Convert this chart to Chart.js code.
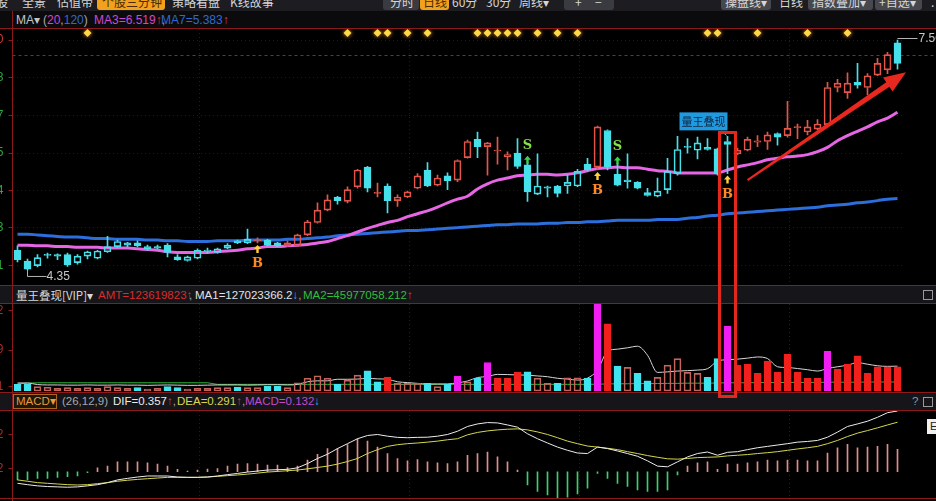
<!DOCTYPE html>
<html>
<head>
<meta charset="utf-8">
<title>K线 量王叠现</title>
<script src="https://cdn.jsdelivr.net/npm/chart.js@4.4.1/dist/chart.umd.min.js"></script>
<style>
html,body{margin:0;padding:0;background:#000;overflow:hidden;}
#wrap{position:relative;width:936px;height:501px;overflow:hidden;background:#000;font-family:"Liberation Sans",Arial,"Noto Sans CJK SC",sans-serif;font-size:12px;}
.a{position:absolute;white-space:nowrap;}
canvas{position:absolute;left:0;}
.tb{position:absolute;top:-4px;line-height:12px;font-size:12px;color:#d6d6d6;font-family:"Noto Sans CJK SC",sans-serif;white-space:nowrap;}
.btn{position:absolute;top:-4px;height:14px;border-radius:3px;background:#3a3a41;}
.hl{position:absolute;left:0;width:936px;height:1px;background:#8c1a1a;z-index:5;}
.row{line-height:16px;height:16px;font-size:11.5px;}
.cjk{font-family:"Noto Sans CJK SC",sans-serif;}
</style>
</head>
<body>
<div id="wrap">
  <!-- toolbar (cut off at top) -->
  <div class="a" style="left:0;top:0;width:936px;height:11px;background:#1c1c21;overflow:hidden;">
    <span class="tb" style="left:-4px">股</span>
    <span class="tb" style="left:22px">全景</span>
    <span class="tb" style="left:57px">估值带</span>
    <div class="btn" style="left:97px;width:68px;background:#f2a11f"></div>
    <span class="tb" style="left:102px;color:#4a2a00">个股三分钟</span>
    <span class="tb" style="left:172px">策略看盘</span>
    <span class="tb" style="left:230px">K线故事</span>
    <div class="btn" style="left:383px;width:36px"></div>
    <span class="tb" style="left:390px">分时</span>
    <div class="btn" style="left:420px;width:29px;background:#f2a11f"></div>
    <span class="tb" style="left:423px;color:#4a2a00">日线</span>
    <span class="tb" style="left:452px">60分</span>
    <span class="tb" style="left:486px">30分</span>
    <span class="tb" style="left:519px">周线▾</span>
    <div class="btn" style="left:564px;width:50px"></div>
    <span class="tb" style="left:575px">+</span>
    <span class="tb" style="left:595px">−</span>
    <div class="btn" style="left:721px;width:50px;background:#47474e"></div>
    <span class="tb" style="left:725px">操盘线▾</span>
    <span class="tb" style="left:779px">日线</span>
    <div class="btn" style="left:808px;width:65px;background:#47474e"></div>
    <span class="tb" style="left:812px">指数叠加▾</span>
    <div class="btn" style="left:875px;width:47px;background:#47474e"></div>
    <span class="tb" style="left:879px">+自选▾</span>
    <span class="tb" style="left:931px">.</span>
  </div>

  <!-- MA legend row -->
  <div class="a" style="left:0;top:11px;width:936px;height:17px;background:#0b0b0e"></div>
  <span class="a row" style="left:16px;top:12px;color:#c4c4c4;font-size:12px">MA▾</span>
  <span class="a row" style="left:43px;top:12px;color:#a8a8a8;font-size:12px">(<span style="color:#cf48cf">20</span>,<span style="color:#2f6ad0">120</span>)</span>
  <span class="a row" style="left:94px;top:12px;color:#cf48cf;font-size:12px">MA3=6.519<span style="color:#e03a3a">↑</span><span style="color:#a8a8a8">,</span></span>
  <span class="a row" style="left:161px;top:12px;color:#2f6ad0;font-size:12px">MA7=5.383<span style="color:#e03a3a">↑</span></span>

  <!-- volume header row -->
  <div class="a" style="left:0;top:286px;width:936px;height:17px;background:#15151a"></div>
  <span class="a row cjk" style="left:16px;top:287px;color:#d8d8d8;font-size:11.5px">量王叠现[VIP]▾</span>
  <span class="a row" style="left:98px;top:287px;color:#d82c2c">AMT=123619823↑</span>
  <span class="a row" style="left:189px;top:287px;color:#a8a8a8">,</span>
  <span class="a row" style="left:195px;top:287px;color:#e4e4e4">MA1=127023366.2<span style="color:#2ab8e0">↓</span><span style="color:#a8a8a8">,</span></span>
  <span class="a row" style="left:303px;top:287px;color:#2fbf3a">MA2=45977058.212<span style="color:#e03a3a">↑</span></span>
  <div class="a" style="left:923px;top:290px;width:8px;height:8px;border:1px solid #9a9a9a"></div>

  <!-- MACD header row -->
  <div class="a" style="left:0;top:393px;width:936px;height:17px;background:#15151a"></div>
  <div class="a" style="left:13px;top:394px;width:42px;height:13px;border:1px solid #a8661e;background:#1f160c"></div>
  <span class="a row" style="left:16px;top:393px;color:#e89a3c">MACD▾</span>
  <span class="a row" style="left:62px;top:393px;color:#a8a8a8">(26,12,9)</span>
  <span class="a row" style="left:113px;top:393px;color:#ececec">DIF=0.357<span style="color:#e03a3a">↑</span><span style="color:#a8a8a8">,</span></span>
  <span class="a row" style="left:177px;top:393px;color:#d8d84e">DEA=0.291<span style="color:#e03a3a">↑</span><span style="color:#a8a8a8">,</span></span>
  <span class="a row" style="left:245px;top:393px;color:#c448d0">MACD=0.132<span style="color:#2ab8e0">↓</span></span>
  <span class="a row" style="left:912px;top:393px;color:#9a9a9a">?</span>
  <div class="a" style="left:923px;top:397px;width:8px;height:8px;border:1px solid #9a9a9a"></div>

  <canvas id="cPrice" width="936" height="256" style="top:29px;width:936px;height:256px"></canvas>
  <canvas id="cVol" width="936" height="88" style="top:304px;width:936px;height:88px"></canvas>
  <canvas id="cMacd" width="936" height="90" style="top:411px;width:936px;height:90px"></canvas>

  <div class="a" style="left:927px;top:419px;width:12px;height:15px;background:#f0f0f0;color:#222;font-size:11px;line-height:15px;z-index:6">&nbsp;E</div>

  <!-- panel frame lines -->
  <div class="hl" style="top:28px"></div>
  <div class="hl" style="top:285px"></div>
  <div class="hl" style="top:303px"></div>
  <div class="hl" style="top:392px"></div>
  <div class="hl" style="top:410px"></div>
  <div class="hl" style="top:498px"></div>
  <div class="a" style="left:12px;top:11px;width:1px;height:490px;background:#8c1a1a;z-index:5"></div>

  <div id="kingBox" class="a" style="box-sizing:border-box;border:3px solid #e2281c;z-index:8"></div>
</div>

<script>
// ---------------- data ----------------
const days = [1,2,3,4,5,6,7,8,9,10,11,12,13,14,15,16,17,18,19,20,21,22,23,24,25,26,27,28,29,30,
  31,32,33,34,35,36,37,38,39,40,41,42,43,44,45,46,47,48,49,50,51,52,53,54,55,56,57,58,59,60,
  61,62,63,64,65,66,67,68,69,70,71,72,73,74,75,76,77,78,79,80,81,82,83,84,85,86,87,88,89];

const opens = [4.62,4.47,4.41,4.55,4.56,4.56,4.45,4.54,4.51,4.60,
  4.67,4.72,4.72,4.67,4.67,4.69,4.53,4.48,4.51,4.61,
  4.59,4.65,4.75,4.72,4.75,4.76,4.72,4.68,4.68,4.83,
  5.00,5.17,5.35,5.29,5.49,5.76,5.40,5.50,5.30,5.35,
  5.47,5.72,5.51,5.64,5.58,5.89,6.14,6.04,5.98,5.90,
  5.95,5.79,5.39,5.49,5.50,5.50,5.50,5.80,5.76,6.26,
  5.66,5.58,5.55,5.41,5.36,5.45,5.67,6.03,5.99,6.03,
  6.01,6.11,5.94,5.99,6.10,6.11,6.22,6.19,6.30,6.24,
  6.28,6.34,6.85,6.78,6.92,6.85,7.02,7.09,7.46];

const closes = [4.49,4.36,4.52,4.56,4.54,4.42,4.54,4.60,4.61,4.67,
  4.74,4.69,4.68,4.64,4.65,4.59,4.49,4.53,4.62,4.62,
  4.64,4.69,4.72,4.77,4.76,4.69,4.68,4.72,4.83,5.01,
  5.17,5.31,5.30,5.45,5.72,5.47,5.41,5.30,5.35,5.42,
  5.64,5.50,5.61,5.57,5.85,6.11,6.04,6.09,5.99,5.93,
  5.77,5.42,5.50,5.47,5.40,5.55,5.70,5.72,6.31,5.76,
  5.51,5.56,5.47,5.37,5.43,5.70,6.00,6.04,6.09,6.00,
  5.67,6.07,5.99,6.14,6.12,6.20,6.17,6.29,6.31,6.31,
  6.35,6.85,6.91,6.91,6.88,7.01,7.18,7.30,7.18];

const highs = [4.68,4.50,4.56,4.58,4.57,4.58,4.56,4.61,4.62,4.81,
  4.76,4.73,4.75,4.69,4.69,4.71,4.56,4.54,4.64,4.65,
  4.65,4.71,4.76,4.91,4.79,4.77,4.73,4.75,4.84,5.03,
  5.27,5.38,5.36,5.49,5.73,5.77,5.54,5.53,5.38,5.43,
  5.67,5.82,5.65,5.68,5.86,6.13,6.24,6.10,6.17,5.97,
  6.15,5.82,5.94,5.50,5.51,5.65,5.73,5.88,6.32,6.27,
  5.81,5.94,5.56,5.47,5.61,5.88,6.18,6.15,6.17,6.15,
  6.02,6.18,6.02,6.17,6.19,6.24,6.23,6.66,6.35,6.40,
  6.41,6.92,6.96,7.05,7.18,7.04,7.25,7.33,7.50];

const lows = [4.46,4.35,4.39,4.51,4.49,4.40,4.43,4.50,4.50,4.59,
  4.66,4.67,4.67,4.62,4.64,4.53,4.48,4.47,4.50,4.58,
  4.58,4.64,4.71,4.71,4.72,4.68,4.67,4.67,4.67,4.82,
  4.99,5.16,5.25,5.27,5.47,5.42,5.35,5.13,5.22,5.34,
  5.46,5.49,5.50,5.45,5.56,5.88,5.89,5.65,5.80,5.72,
  5.74,5.29,5.38,5.35,5.35,5.40,5.49,5.71,5.72,5.72,
  5.50,5.47,5.46,5.36,5.35,5.40,5.65,5.95,5.87,5.99,
  5.65,5.67,5.93,5.98,6.04,6.00,6.06,6.17,6.15,6.20,
  6.27,6.32,6.79,6.70,6.84,6.75,7.01,7.04,7.10];

// indicator state of each candle: 1 = strong (red), 0 = weak (cyan)
const candleTone = [0,0,0,0,0,0,0,0,0,0,
  0,0,0,0,0,0,0,0,0,0,
  0,0,0,0,1,0,0,1,1,1,
  1,1,0,1,1,0,1,0,1,1,
  1,0,1,0,1,1,0,1,1,1,
  0,0,0,0,0,0,0,0,1,0,
  0,0,0,0,0,0,0,0,0,0,
  0,0,1,1,1,1,0,1,1,1,
  1,1,1,1,0,1,1,1,0];

const ma20 = [4.69,4.69,4.68,4.68,4.67,4.67,4.66,4.66,4.66,4.65,
  4.65,4.65,4.64,4.63,4.62,4.60,4.59,4.59,4.59,4.59,
  4.60,4.61,4.62,4.64,4.65,4.67,4.67,4.68,4.69,4.70,
  4.72,4.74,4.78,4.82,4.87,4.92,4.96,5.00,5.03,5.08,
  5.12,5.16,5.21,5.27,5.32,5.36,5.46,5.53,5.58,5.61,
  5.64,5.65,5.66,5.66,5.65,5.66,5.68,5.71,5.74,5.75,
  5.76,5.75,5.75,5.73,5.71,5.70,5.68,5.68,5.68,5.68,
  5.68,5.72,5.76,5.79,5.82,5.86,5.88,5.90,5.91,5.93,
  5.97,6.03,6.12,6.19,6.25,6.31,6.38,6.43,6.51];

const ma120 = [4.84,4.84,4.83,4.82,4.81,4.80,4.80,4.79,4.78,4.78,
  4.77,4.77,4.77,4.76,4.76,4.75,4.75,4.74,4.74,4.74,
  4.75,4.75,4.75,4.76,4.76,4.76,4.76,4.77,4.77,4.78,
  4.79,4.80,4.82,4.83,4.84,4.85,4.86,4.87,4.88,4.89,
  4.89,4.90,4.91,4.92,4.93,4.94,4.95,4.96,4.97,4.97,
  4.98,4.98,4.98,4.99,4.99,5.00,5.00,5.01,5.01,5.02,
  5.03,5.03,5.03,5.03,5.04,5.04,5.04,5.06,5.07,5.09,
  5.10,5.12,5.13,5.14,5.15,5.16,5.17,5.18,5.19,5.20,
  5.21,5.23,5.24,5.25,5.27,5.28,5.30,5.32,5.33];

const priceTicks = [4.41, 4.93, 5.44, 5.95, 6.47, 6.98, 7.50];
const signalDiamonds = [7,33,36,37,39,41,46,47,48,49,50,52,54,56,69,70,74,79,83];
const buySignals = [24,58,71];
const sellSignals = [51,60];
const volumeKing = 71;           // 量王叠现 day
const monthStarts = [18,39,56,77];
const trendArrow = [[73,5.58],[88.85,7.06]];

// volume (millions)
const volumes = [34,34,22,19,14,17,14,17,14,22,
  17,14,17,10,14,22,17,10,14,14,
  17,17,20,17,17,24,24,17,42,65,
  78,65,34,56,81,103,47,71,39,39,
  39,39,22,34,76,47,65,146,65,65,
  95,98,65,39,39,68,68,65,443,344,
  127,121,90,52,70,132,166,95,90,70,
  166,332,132,137,90,153,95,187,95,65,
  65,203,112,137,180,90,124,124,123.6];
// C = cyan, H = hollow, R = red, M = magenta (量王)
const volKind = ['C','C','H','H','H','H','H','H','H','H',
  'H','H','C','H','H','C','C','H','H','H',
  'H','H','C','H','H','C','C','H','H','H',
  'H','H','C','H','H','C','C','R','H','H',
  'H','C','H','C','M','H','C','M','R','R',
  'R','C','H','H','C','H','H','C','M','R',
  'C','H','C','C','H','H','H','H','H','C',
  'C','M','R','R','R','R','R','R','R','R',
  'R','M','R','R','R','R','R','R','R'];
const volMA1 = [41,41,33,31,31,30,30,31,30,30,
  31,30,30,29,30,31,30,29,29,30,
  31,31,31,30,31,32,32,31,34,47,
  52,52,60,60,61,65,62,60,47,43,
  39,36,36,36,42,51,69,74,85,84,
  82,81,77,73,65,61,56,66,107,203,
  214,221,229,183,95,98,102,104,107,114,
  153,160,163,168,174,166,124,120,115,109,
  102,115,124,132,145,137,129,126,127.02];
const volMA2 = [36,40,42,42,42,42,42,42,42,42,
  42,42,42,42,42,42,42,42,42,42,
  34,34,34,34,34,34,34,34,34,34,
  34,34,34,34,34,34,34,34,34,34,
  34,34,34,34,34,34,34,34,34,34,
  34,34,34,34,34,34,34,34,35,36,
  37,37,38,38,38,39,39,40,40,40,
  41,42,42,42,43,43,43,44,44,44,
  44,45,45,45,45,46,46,46,45.98];
const volTicks = [21, 209, 412];

const dif = [-0.068,-0.076,-0.083,-0.087,-0.089,-0.091,-0.089,-0.083,-0.076,-0.064,
  -0.048,-0.039,-0.031,-0.025,-0.025,-0.025,-0.031,-0.033,-0.033,-0.031,
  -0.025,-0.017,-0.010,-0.002,0.004,0.010,0.012,0.014,0.023,0.048,
  0.078,0.103,0.136,0.165,0.194,0.213,0.219,0.209,0.202,0.200,
  0.202,0.203,0.209,0.219,0.238,0.266,0.281,0.289,0.287,0.275,
  0.262,0.223,0.194,0.169,0.145,0.126,0.110,0.107,0.145,0.136,
  0.122,0.107,0.091,0.064,0.033,0.029,0.058,0.087,0.107,0.116,
  0.097,0.114,0.118,0.130,0.141,0.149,0.157,0.165,0.174,0.178,
  0.184,0.203,0.233,0.266,0.281,0.297,0.320,0.347,0.357];
const dea = [-0.048,-0.056,-0.064,-0.068,-0.072,-0.076,-0.078,-0.076,-0.070,-0.064,
  -0.056,-0.050,-0.045,-0.041,-0.037,-0.033,-0.033,-0.033,-0.033,-0.031,
  -0.027,-0.023,-0.019,-0.014,-0.008,-0.002,0.002,0.006,0.010,0.017,
  0.025,0.033,0.045,0.060,0.078,0.107,0.130,0.149,0.159,0.165,
  0.169,0.174,0.180,0.188,0.194,0.217,0.231,0.240,0.246,0.250,
  0.252,0.246,0.234,0.219,0.200,0.180,0.165,0.151,0.145,0.138,
  0.130,0.118,0.107,0.095,0.085,0.076,0.074,0.078,0.083,0.085,
  0.087,0.093,0.097,0.101,0.107,0.112,0.118,0.126,0.134,0.141,
  0.149,0.165,0.184,0.207,0.227,0.242,0.258,0.275,0.291];
const macdHist = [-0.048,-0.048,-0.039,-0.039,-0.033,-0.029,-0.025,-0.005,0.023,0.033,
  0.058,0.058,0.058,0.052,0.045,0.033,0.014,0.004,0.010,0.016,
  0.019,0.033,0.045,0.048,0.045,0.039,0.039,0.025,0.033,0.068,
  0.103,0.136,0.136,0.159,0.194,0.180,0.145,0.107,0.078,0.064,
  0.072,0.058,0.052,0.048,0.058,0.097,0.107,0.116,0.087,0.058,
  0.010,-0.078,-0.116,-0.136,-0.155,-0.149,-0.130,-0.097,-0.010,-0.039,
  -0.068,-0.087,-0.107,-0.116,-0.116,-0.107,-0.019,0.033,0.052,0.058,
  0.014,0.045,0.045,0.052,0.058,0.068,0.064,0.068,0.068,0.064,
  0.064,0.110,0.141,0.161,0.141,0.145,0.149,0.161,0.132];
const macdTicks = [0.02, 0.22];

// ---------------- styling ----------------
Chart.defaults.font.family = '"Liberation Sans", Arial, sans-serif';
const AXIS_W = 12.5, RIGHT_PAD = 33.5;
const C_RED = '#e4554b', C_CYAN = '#46e0ea';
const prevClose = closes[closes.length - 2];

function leftAxis(min, max, tickVals, color, fmt, gridOnArea) {
  return {
    position: 'left', min: min, max: max,
    afterBuildTicks: ax => { ax.ticks = tickVals.map(v => ({ value: v })); },
    afterFit: ax => { ax.width = AXIS_W; ax.paddingTop = 0; ax.paddingBottom = 0; },
    ticks: { color: color, font: { size: 12 }, padding: 5, autoSkip: false, callback: v => fmt(v) },
    grid: { drawOnChartArea: gridOnArea, color: 'rgba(120,24,24,0.5)', tickColor: '#8c1a1a', tickLength: 4, lineWidth: 1 },
    border: { display: false, dash: [1, 3] }
  };
}

const monthLines = {
  id: 'monthLines',
  beforeDatasetsDraw(chart) {
    const { ctx, chartArea: a, scales: { x } } = chart;
    ctx.save();
    ctx.strokeStyle = 'rgba(125,24,24,0.6)';
    ctx.setLineDash([1, 3]);
    ctx.lineWidth = 1;
    monthStarts.forEach(i => {
      const px = Math.round(x.getPixelForValue(i) + 1) + 0.5;
      ctx.beginPath(); ctx.moveTo(px, a.top); ctx.lineTo(px, a.bottom); ctx.stroke();
    });
    ctx.restore();
  }
};

function upArrow(ctx, cx, top, color) {
  ctx.fillStyle = color;
  ctx.beginPath();
  ctx.moveTo(cx, top);
  ctx.lineTo(cx + 3.5, top + 4);
  ctx.lineTo(cx + 1.2, top + 4);
  ctx.lineTo(cx + 1.2, top + 8);
  ctx.lineTo(cx - 1.2, top + 8);
  ctx.lineTo(cx - 1.2, top + 4);
  ctx.lineTo(cx - 3.5, top + 4);
  ctx.closePath();
  ctx.fill();
}

const priceDecor = {
  id: 'priceDecor',
  beforeDatasetsDraw(chart) {
    const { ctx, chartArea: a, scales: { y } } = chart;
    const py = Math.round(y.getPixelForValue(prevClose)) + 0.5;
    ctx.save();
    ctx.strokeStyle = '#a21d1d';
    ctx.setLineDash([3, 3]);
    ctx.lineWidth = 1;
    ctx.beginPath(); ctx.moveTo(a.left, py); ctx.lineTo(chart.width, py); ctx.stroke();
    ctx.restore();
  },
  afterDatasetsDraw(chart) {
    const { ctx, chartArea: a, scales: { x, y } } = chart;
    ctx.save();
    // signal diamonds along the top
    ctx.fillStyle = '#ffd84a';
    ctx.shadowColor = 'rgba(255,160,0,0.9)';
    ctx.shadowBlur = 4;
    signalDiamonds.forEach(i => {
      const px = x.getPixelForValue(i), py = a.top + 4;
      ctx.beginPath();
      ctx.moveTo(px, py - 4); ctx.lineTo(px + 4, py); ctx.lineTo(px, py + 4); ctx.lineTo(px - 4, py);
      ctx.closePath(); ctx.fill();
    });
    ctx.shadowBlur = 0;

    // B / S markers
    ctx.textAlign = 'center';
    ctx.textBaseline = 'middle';
    ctx.font = 'bold 13px "DejaVu Serif", serif';
    buySignals.forEach(i => {
      const px = x.getPixelForValue(i), pl = y.getPixelForValue(lows[i]);
      upArrow(ctx, px, pl + 2, '#ffd23a');
      ctx.fillStyle = '#ff8a24';
      ctx.fillText('B', px, pl + 21);
    });
    sellSignals.forEach(i => {
      const px = x.getPixelForValue(i), ph = y.getPixelForValue(highs[i]);
      upArrow(ctx, px, ph - 7, '#3ed24a');
      ctx.fillStyle = '#86e04a';
      ctx.fillText('S', px, ph - 17);
    });

    // lowest / highest price labels
    ctx.font = '12px "Liberation Sans", Arial, sans-serif';
    ctx.strokeStyle = '#b4b4b4';
    ctx.fillStyle = '#c8c8c8';
    ctx.lineWidth = 1;
    const iMin = lows.indexOf(Math.min(...lows));
    const lx = Math.round(x.getPixelForValue(iMin)) - 0.5, ly = y.getPixelForValue(lows[iMin]);
    ctx.beginPath(); ctx.moveTo(lx, ly); ctx.lineTo(lx, ly + 6.5); ctx.lineTo(lx + 19, ly + 6.5); ctx.stroke();
    ctx.textAlign = 'left';
    ctx.fillText(lows[iMin].toFixed(2), lx + 19, ly + 7);
    const iMax = highs.indexOf(Math.max(...highs));
    const hx = x.getPixelForValue(iMax), hy = Math.round(y.getPixelForValue(highs[iMax])) - 1.5;
    ctx.beginPath(); ctx.moveTo(hx, hy); ctx.lineTo(hx + 20, hy); ctx.stroke();
    ctx.fillText(highs[iMax].toFixed(2), hx + 21, hy + 0.5);

    // 量王叠现 label
    const kx = x.getPixelForValue(volumeKing), ky = y.getPixelForValue(highs[volumeKing]);
    ctx.fillStyle = '#1f9ae0';
    ctx.fillRect(kx - 48, ky - 24, 48, 18);
    ctx.fillStyle = '#0f2440';
    ctx.font = '11px "Noto Sans CJK SC", sans-serif';
    ctx.textAlign = 'center';
    ctx.fillText('量王叠现', kx - 24, ky - 15);
    ctx.strokeStyle = '#9fb8c8';
    ctx.beginPath(); ctx.moveTo(kx - 6, ky - 5); ctx.lineTo(kx - 1, ky - 1); ctx.stroke();

    // trend arrow
    const x0 = x.getPixelForValue(trendArrow[0][0]), y0 = y.getPixelForValue(trendArrow[0][1]);
    const x1 = x.getPixelForValue(trendArrow[1][0]), y1 = y.getPixelForValue(trendArrow[1][1]);
    const ang = Math.atan2(y1 - y0, x1 - x0), c = Math.cos(ang), s = Math.sin(ang);
    const headLen = 22, headW = 8.5;
    const bx = x1 - headLen * c, by = y1 - headLen * s;
    ctx.fillStyle = '#e8281f';
    ctx.beginPath();
    ctx.moveTo(x0 - 1 * s, y0 + 1 * c);
    ctx.lineTo(bx - 2.8 * s, by + 2.8 * c);
    ctx.lineTo(bx - headW * s, by + headW * c);
    ctx.lineTo(x1, y1);
    ctx.lineTo(bx + headW * s, by - headW * c);
    ctx.lineTo(bx + 2.8 * s, by - 2.8 * c);
    ctx.lineTo(x0 + 1 * s, y0 - 1 * c);
    ctx.closePath();
    ctx.fill();
    ctx.restore();
  }
};

function baseOptions(yScale, padBottom) {
  return {
    responsive: false, animation: false, devicePixelRatio: 1, events: [],
    layout: { padding: { left: 0, right: RIGHT_PAD, top: 0, bottom: padBottom } },
    plugins: { legend: { display: false }, tooltip: { enabled: false } },
    scales: {
      x: { type: 'category', display: false, offset: true, grid: { display: false } },
      y: yScale
    }
  };
}

// ---------------- price chart ----------------
const toneColors = candleTone.map(t => t ? C_RED : C_CYAN);
const bodyData = opens.map((o, i) => [o, closes[i]]);
const upperWick = highs.map((h, i) => [Math.max(opens[i], closes[i]), h]);
const lowerWick = lows.map((l, i) => [l, Math.min(opens[i], closes[i])]);
const bodyFill = opens.map((o, i) => closes[i] >= o ? 'rgba(0,0,0,0)' : toneColors[i]);

const priceChart = new Chart(document.getElementById('cPrice'), {
  type: 'bar',
  data: {
    labels: days,
    datasets: [
      { type: 'line', data: ma120, borderColor: '#2c6fdc', borderWidth: 3, pointRadius: 0, cubicInterpolationMode: 'monotone', order: 5 },
      { type: 'line', data: ma20, borderColor: '#e766e5', borderWidth: 3, pointRadius: 0, cubicInterpolationMode: 'monotone', order: 4 },
      { type: 'bar', data: upperWick, backgroundColor: toneColors, borderWidth: 0, barThickness: 1, grouped: false, order: 3 },
      { type: 'bar', data: lowerWick, backgroundColor: toneColors, borderWidth: 0, barThickness: 1, grouped: false, order: 3 },
      { type: 'bar', data: bodyData, backgroundColor: bodyFill, borderColor: toneColors, borderWidth: 1, borderSkipped: false,
        barThickness: 7, grouped: false, minBarLength: 1, order: 1 }
    ]
  },
  options: baseOptions(
    leftAxis(4.144, 7.651, priceTicks, c => (c.tick && c.tick.value > prevClose) ? '#d23a3a' : '#2faa3c', v => v.toFixed(2), true),
    0),
  plugins: [monthLines, priceDecor]
});

// ---------------- volume chart ----------------
const volFill = volKind.map(k => k === 'C' ? '#40e4ee' : k === 'R' ? '#f2201c' : k === 'M' ? '#f01ef0' : 'rgba(0,0,0,0)');
const volBorder = volKind.map(k => k === 'C' ? '#40e4ee' : k === 'R' ? '#f2201c' : k === 'M' ? '#f01ef0' : '#c4645c');

const volChart = new Chart(document.getElementById('cVol'), {
  type: 'bar',
  data: {
    labels: days,
    datasets: [
      { type: 'line', data: volMA2, borderColor: '#2dbb3a', borderWidth: 1, pointRadius: 0, order: 5 },
      { type: 'line', data: volMA1, borderColor: '#d6d6d6', borderWidth: 1, pointRadius: 0, cubicInterpolationMode: 'monotone', order: 4 },
      { type: 'bar', data: volumes, backgroundColor: volFill, borderColor: volBorder, borderWidth: 1, borderSkipped: false,
        barThickness: 7, grouped: false, order: 1 }
    ]
  },
  options: baseOptions(leftAxis(0, 445, volTicks, '#b02a2a', v => String(Math.round(v)), false), 1),
  plugins: [monthLines]
});

// ---------------- MACD chart ----------------
const macdChart = new Chart(document.getElementById('cMacd'), {
  type: 'bar',
  data: {
    labels: days,
    datasets: [
      { type: 'line', data: dif, borderColor: '#ececec', borderWidth: 1, pointRadius: 0, order: 2 },
      { type: 'line', data: dea, borderColor: '#d6d64e', borderWidth: 1, pointRadius: 0, order: 2 },
      { type: 'bar', data: macdHist, backgroundColor: macdHist.map(v => v >= 0 ? '#e48c8c' : '#3ccf6a'),
        barThickness: 1, grouped: false, order: 3 }
    ]
  },
  options: baseOptions(leftAxis(-0.172, 0.357, macdTicks, '#b02a2a', v => v.toFixed(2), false), 0),
  plugins: [monthLines]
});

// ---------------- 量王叠现 highlight frame ----------------
(function () {
  const pc = document.getElementById('cPrice'), vc = document.getElementById('cVol');
  const kx = priceChart.scales.x.getPixelForValue(volumeKing);
  const top = pc.offsetTop + priceChart.scales.y.getPixelForValue(highs[volumeKing]) - 5;
  const bottom = vc.offsetTop + volChart.chartArea.bottom + 7;
  const box = document.getElementById('kingBox');
  box.style.left = (kx - 9.5) + 'px';
  box.style.top = top + 'px';
  box.style.width = '19px';
  box.style.height = (bottom - top) + 'px';
})();
</script>
</body>
</html>
